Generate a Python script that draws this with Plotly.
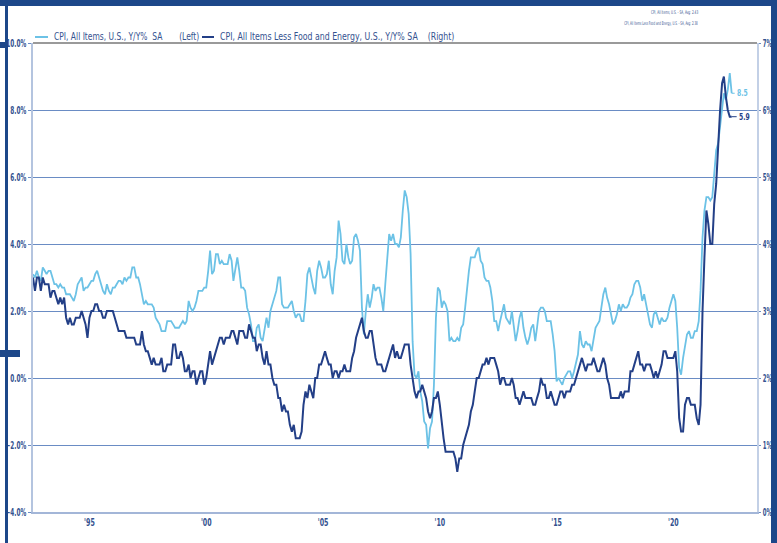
import json
import pandas as pd
import plotly.graph_objects as go

# ---------------- data (monthly, Aug 1992 - Jul 2022) ----------------
START_MONTH = "1992-08-01"

cpi_all = [
    3.1, 3.0, 3.2, 3.0, 2.9,
    3.3, 3.2, 3.1, 3.2, 3.2, 3.0, 2.8, 2.8, 2.7, 2.8, 2.7, 2.7,
    2.5, 2.5, 2.5, 2.4, 2.3, 2.5, 2.8, 2.9, 3.0, 2.6, 2.7, 2.7,
    2.8, 2.9, 2.9, 3.1, 3.2, 3.0, 2.8, 2.6, 2.5, 2.8, 2.6, 2.5,
    2.7, 2.7, 2.8, 2.9, 2.9, 2.8, 3.0, 2.9, 3.0, 3.0, 3.3, 3.3,
    3.0, 3.0, 2.8, 2.5, 2.2, 2.3, 2.2, 2.2, 2.2, 2.1, 1.8, 1.7,
    1.6, 1.4, 1.4, 1.4, 1.7, 1.7, 1.7, 1.6, 1.5, 1.5, 1.5, 1.6,
    1.7, 1.6, 1.7, 2.3, 2.1, 2.0, 2.1, 2.3, 2.6, 2.6, 2.6, 2.7,
    2.7, 3.2, 3.8, 3.1, 3.2, 3.7, 3.7, 3.4, 3.5, 3.4, 3.4, 3.4,
    3.7, 3.5, 2.9, 3.3, 3.6, 3.2, 2.7, 2.7, 2.6, 2.1, 1.9, 1.6,
    1.1, 1.1, 1.5, 1.6, 1.2, 1.1, 1.5, 1.8, 1.5, 2.0, 2.2, 2.4,
    2.6, 3.0, 3.0, 2.2, 2.1, 2.1, 2.1, 2.2, 2.3, 2.0, 1.8, 1.9,
    1.9, 1.7, 1.7, 2.3, 3.1, 3.3, 3.0, 2.7, 2.5, 3.2, 3.5, 3.3,
    3.0, 3.0, 3.1, 3.5, 2.8, 2.5, 3.2, 3.6, 4.7, 4.3, 3.5, 3.4,
    4.0, 3.6, 3.4, 3.5, 4.2, 4.3, 4.1, 3.8, 2.1, 1.3, 2.0, 2.5,
    2.1, 2.4, 2.8, 2.6, 2.7, 2.7, 2.4, 2.0, 2.8, 3.5, 4.3, 4.1,
    4.3, 4.0, 4.0, 3.9, 4.2, 5.0, 5.6, 5.4, 4.9, 3.7, 1.1, 0.1,
    0.0, 0.2, -0.4, -0.7, -1.3, -1.4, -2.1, -1.5, -1.3, -0.2, 1.8, 2.7,
    2.6, 2.1, 2.3, 2.2, 2.0, 1.1, 1.2, 1.1, 1.1, 1.2, 1.1, 1.5,
    1.6, 2.1, 2.7, 3.2, 3.6, 3.6, 3.6, 3.8, 3.9, 3.5, 3.4, 3.0,
    2.9, 2.9, 2.7, 2.3, 1.7, 1.7, 1.4, 1.7, 2.0, 2.2, 1.8, 1.7,
    1.6, 2.0, 1.5, 1.1, 1.4, 1.8, 2.0, 1.5, 1.2, 1.0, 1.2, 1.5,
    1.6, 1.1, 1.5, 2.0, 2.1, 2.1, 2.0, 1.7, 1.7, 1.7, 1.3, 0.8,
    -0.1, 0.0, -0.1, -0.2, 0.0, 0.1, 0.2, 0.2, 0.0, 0.2, 0.5, 0.7,
    1.4, 1.0, 0.9, 1.1, 1.0, 1.0, 0.8, 1.1, 1.5, 1.6, 1.7, 2.1,
    2.5, 2.7, 2.4, 2.2, 1.9, 1.6, 1.7, 1.9, 2.2, 2.0, 2.2, 2.1,
    2.1, 2.2, 2.4, 2.5, 2.8, 2.9, 2.9, 2.7, 2.3, 2.5, 2.2, 1.9,
    1.6, 1.5, 1.9, 2.0, 1.8, 1.6, 1.8, 1.7, 1.7, 1.8, 2.1, 2.3,
    2.5, 2.3, 1.5, 0.3, 0.1, 0.6, 1.0, 1.3, 1.4, 1.2, 1.2, 1.4,
    1.4, 1.7, 2.6, 4.2, 5.0, 5.4, 5.4, 5.3, 5.4, 6.2, 6.8, 7.0,
    7.5, 7.9, 8.5, 8.3, 8.6, 9.1, 8.5,
]

cpi_core = [
    3.5, 3.3, 3.5, 3.5, 3.3,
    3.5, 3.4, 3.4, 3.4, 3.2, 3.3, 3.3, 3.2, 3.1, 3.2, 3.1, 3.2,
    2.9, 2.8, 2.9, 2.8, 2.8, 2.9, 2.9, 2.9, 3.0, 2.9, 2.8, 2.6,
    2.9, 3.0, 3.0, 3.1, 3.1, 3.0, 3.0, 2.9, 2.9, 3.0, 3.0, 3.0,
    3.0, 2.9, 2.8, 2.7, 2.7, 2.7, 2.7, 2.6, 2.6, 2.6, 2.6, 2.6,
    2.5, 2.5, 2.5, 2.7, 2.5, 2.4, 2.4, 2.3, 2.2, 2.3, 2.2, 2.2,
    2.2, 2.3, 2.1, 2.1, 2.2, 2.2, 2.2, 2.5, 2.5, 2.3, 2.3, 2.4,
    2.3, 2.1, 2.1, 2.2, 2.0, 2.1, 2.1, 1.9, 2.0, 2.1, 2.1, 1.9,
    2.0, 2.2, 2.4, 2.2, 2.3, 2.4, 2.5, 2.6, 2.6, 2.5, 2.6, 2.6,
    2.6, 2.7, 2.7, 2.6, 2.5, 2.7, 2.7, 2.7, 2.6, 2.6, 2.8, 2.7,
    2.6, 2.6, 2.4, 2.5, 2.5, 2.3, 2.2, 2.4, 2.2, 2.2, 2.0, 1.9,
    1.9, 1.7, 1.7, 1.5, 1.6, 1.5, 1.5, 1.3, 1.2, 1.3, 1.1, 1.1,
    1.1, 1.2, 1.6, 1.8, 1.7, 1.9, 1.8, 1.7, 2.0, 2.0, 2.2, 2.2,
    2.3, 2.4, 2.3, 2.2, 2.2, 2.0, 2.1, 2.1, 2.0, 2.1, 2.1, 2.2,
    2.1, 2.1, 2.1, 2.3, 2.4, 2.6, 2.7, 2.8, 2.9, 2.7, 2.6, 2.6,
    2.7, 2.7, 2.5, 2.3, 2.2, 2.2, 2.2, 2.1, 2.1, 2.2, 2.3, 2.4,
    2.5, 2.3, 2.4, 2.3, 2.3, 2.4, 2.5, 2.5, 2.5, 2.2, 2.0, 1.8,
    1.7, 1.8, 1.8, 1.9, 1.8, 1.7, 1.5, 1.4, 1.5, 1.7, 1.7, 1.8,
    1.6, 1.3, 1.1, 0.9, 0.9, 0.9, 0.9, 0.9, 0.8, 0.6, 0.8, 0.8,
    1.0, 1.1, 1.2, 1.3, 1.5, 1.6, 1.8, 2.0, 2.0, 2.1, 2.2, 2.2,
    2.3, 2.2, 2.3, 2.3, 2.3, 2.2, 2.1, 1.9, 2.0, 2.0, 1.9, 1.9,
    1.9, 2.0, 1.9, 1.7, 1.7, 1.6, 1.7, 1.8, 1.7, 1.7, 1.7, 1.7,
    1.6, 1.6, 1.7, 1.8, 2.0, 1.9, 1.9, 1.7, 1.7, 1.8, 1.7, 1.6,
    1.6, 1.7, 1.8, 1.8, 1.7, 1.8, 1.8, 1.8, 1.9, 1.9, 2.0, 2.1,
    2.2, 2.3, 2.2, 2.1, 2.2, 2.2, 2.2, 2.3, 2.2, 2.1, 2.1, 2.2,
    2.3, 2.2, 2.0, 1.9, 1.7, 1.7, 1.7, 1.7, 1.7, 1.8, 1.7, 1.8,
    1.8, 1.8, 2.1, 2.1, 2.2, 2.3, 2.4, 2.2, 2.2, 2.1, 2.2, 2.2,
    2.2, 2.1, 2.0, 2.1, 2.0, 2.1, 2.2, 2.4, 2.4, 2.3, 2.3, 2.3,
    2.3, 2.4, 2.1, 1.4, 1.2, 1.2, 1.6, 1.7, 1.7, 1.6, 1.6, 1.6,
    1.4, 1.3, 1.6, 3.0, 3.8, 4.5, 4.3, 4.0, 4.0, 4.6, 4.9, 5.5,
    6.0, 6.4, 6.5, 6.2, 6.0, 5.9, 5.9,
]

series_names = [
    "CPI, All Items, U.S., Y/Y%  SA",
    "CPI, All Items Less Food and Energy, U.S., Y/Y% SA",
]
axis_tags = ["(Left)", "(Right)"]
avg_notes = [
    "CPI, All Items, U.S. - SA, Avg: 2.43",
    "CPI, All Items Less Food and Energy, U.S. - SA, Avg: 2.38",
]
x_tick_years = ["1995-01-01", "2000-01-01", "2005-01-01", "2010-01-01", "2015-01-01", "2020-01-01"]
x_tick_labels = ["'95", "'00", "'05", "'10", "'15", "'20"]
x_range = ["1992-08-01", "2023-08-01"]
left_range = [-4, 10]
right_range = [0, 7]

# ---------------- styling ----------------
W, H = 777, 543
L, R, T, B = 33, 20, 43, 31
LIGHT = "#6cc2e6"
DARK = "#233f87"
FRAME = "#1d4789"
TXT = "#34528f"
GRID = "#6a8cc4"
FONT = "DejaVu Sans Condensed, DejaVu Sans, sans-serif"

dates = pd.date_range(START_MONTH, periods=len(cpi_all), freq="MS")
dates_core = pd.date_range(START_MONTH, periods=len(cpi_core), freq="MS")

fig = go.Figure()
fig.add_trace(go.Scatter(x=dates, y=cpi_all, mode="lines", name=series_names[0],
                         line=dict(color=LIGHT, width=1.8), yaxis="y"))
fig.add_trace(go.Scatter(x=dates_core, y=cpi_core, mode="lines", name=series_names[1],
                         line=dict(color=DARK, width=2.0), yaxis="y2"))

pw, ph = W - L - R, H - T - B


def px(xp):
    return (xp - L) / pw


def py(yp):
    return (H - B - yp) / ph


tickfont = dict(family=FONT, color=TXT, size=10, weight="bold")
fig.update_layout(
    width=W, height=H,
    margin=dict(l=L, r=R, t=T, b=B, pad=0, autoexpand=False),
    paper_bgcolor="white", plot_bgcolor="white",
    showlegend=False,
    font=dict(family=FONT, color=TXT, size=9),
    xaxis=dict(
        type="date", range=x_range, tickvals=x_tick_years, ticktext=x_tick_labels,
        showgrid=False, showline=True, linecolor="#a3b6d8", linewidth=1.5,
        ticks="", zeroline=False, automargin=False, tickfont=tickfont,
    ),
    yaxis=dict(
        range=left_range, dtick=2, tickformat=".1f", ticksuffix="%",
        showgrid=True, gridcolor=GRID, gridwidth=1, zeroline=False,
        showline=True, linecolor="#b4c4df", linewidth=1.5, automargin=False,
        ticks="outside", ticklen=3, tickcolor=GRID, tickfont=tickfont,
    ),
    yaxis2=dict(
        range=right_range, dtick=1, tickformat="d", ticksuffix="%",
        overlaying="y", side="right", showgrid=False, zeroline=False,
        showline=True, linecolor="#c3d0e6", linewidth=1.5, automargin=False,
        ticks="outside", ticklen=2, tickcolor=GRID, tickfont=tickfont,
    ),
)

shapes = []
shapes.append(dict(type="line", xref="paper", yref="paper", x0=0, x1=1, y0=1, y1=1,
                   line=dict(color="#9a9a9a", width=2)))
shapes.append(dict(type="rect", xref="paper", yref="paper", x0=px(0), x1=px(W), y0=py(0), y1=py(6),
                   fillcolor=FRAME, line=dict(width=0), layer="above"))
shapes.append(dict(type="rect", xref="paper", yref="paper", x0=px(771), x1=px(W), y0=py(0), y1=py(H),
                   fillcolor=FRAME, line=dict(width=0), layer="above"))
shapes.append(dict(type="rect", xref="paper", yref="paper", x0=px(5), x1=px(8), y0=py(0), y1=py(H),
                   fillcolor=FRAME, line=dict(width=0), layer="above"))
shapes.append(dict(type="rect", xref="paper", yref="paper", x0=px(0), x1=px(8), y0=py(42), y1=py(48),
                   fillcolor=FRAME, line=dict(width=0), layer="above"))
shapes.append(dict(type="rect", xref="paper", yref="paper", x0=px(0), x1=px(20), y0=py(350), y1=py(357),
                   fillcolor=FRAME, line=dict(width=0), layer="above"))
shapes.append(dict(type="line", xref="paper", yref="paper", x0=px(35), x1=px(48), y0=py(37), y1=py(37),
                   line=dict(color=LIGHT, width=2)))
shapes.append(dict(type="line", xref="paper", yref="paper", x0=px(202), x1=px(214), y0=py(37), y1=py(37),
                   line=dict(color=DARK, width=2)))
fig.update_layout(shapes=shapes)

NB = "\u00a0"
ann = []
squeeze = []  # horizontal compression per annotation (narrow-font look)
ann.append(dict(xref="paper", yref="paper", x=px(52), y=py(37), xanchor="left", yanchor="middle",
                text=series_names[0].replace(" ", NB) + NB * 7 + axis_tags[0], showarrow=False,
                font=dict(family=FONT, size=10, color=TXT)))
squeeze.append(0.84)
ann.append(dict(xref="paper", yref="paper", x=px(218), y=py(37), xanchor="left", yanchor="middle",
                text=series_names[1].replace(" ", NB) + NB * 4 + axis_tags[1], showarrow=False,
                font=dict(family=FONT, size=10, color=TXT)))
squeeze.append(0.87)
ann.append(dict(xref="paper", yref="paper", x=px(700), y=py(13), xanchor="right", yanchor="middle",
                text=avg_notes[0], showarrow=False, font=dict(family=FONT, size=5, color=TXT)))
squeeze.append(0.62)
ann.append(dict(xref="paper", yref="paper", x=px(700), y=py(24), xanchor="right", yanchor="middle",
                text=avg_notes[1], showarrow=False, font=dict(family=FONT, size=5, color=TXT)))
squeeze.append(0.58)
ann.append(dict(x=dates[-1], y=cpi_all[-1], xref="x", yref="y", text=f"{cpi_all[-1]:.1f}",
                showarrow=True, arrowhead=0, arrowwidth=1, arrowcolor=LIGHT, ax=3, ay=0,
                xanchor="left", font=dict(family=FONT, size=9, color=LIGHT, weight="bold")))
squeeze.append(0.75)
ann.append(dict(x=dates_core[-1], y=cpi_core[-1], xref="x", yref="y2", text=f"{cpi_core[-1]:.1f}",
                showarrow=True, arrowhead=0, arrowwidth=1, arrowcolor=DARK, ax=5, ay=0,
                xanchor="left", font=dict(family=FONT, size=9, color=DARK, weight="bold")))
squeeze.append(0.75)
fig.update_layout(annotations=ann)

post = """
var gd = document.getElementById('{plot_id}');
var SQ = %s;
function sq(el, k, keep) {
  if (!el || !el.textContent) return;
  var b0 = el.getBBox();
  var len = el.getComputedTextLength();
  el.setAttribute('lengthAdjust', 'spacingAndGlyphs');
  el.setAttribute('textLength', len * k);
  var b1 = el.getBBox();
  var dx = 0;
  if (keep === 'left') dx = b0.x - b1.x;
  else if (keep === 'right') dx = (b0.x + b0.width) - (b1.x + b1.width);
  else dx = (b0.x + b0.width / 2) - (b1.x + b1.width / 2);
  el.setAttribute('x', parseFloat(el.getAttribute('x') || 0) + dx);
}
gd.querySelectorAll('g.annotation').forEach(function (g) {
  var i = parseInt(g.getAttribute('data-index'));
  var a = gd._fullLayout.annotations[i];
  sq(g.querySelector('text.annotation-text'), SQ[i], a.xanchor);
});
gd.querySelectorAll('g.ytick text').forEach(function (t) { sq(t, 0.64, 'right'); });
gd.querySelectorAll('g.y2tick text').forEach(function (t) { sq(t, 0.6, 'left'); });
gd.querySelectorAll('g.xtick text').forEach(function (t) { sq(t, 0.7, 'center'); });
""" % json.dumps(squeeze)

fig.write_html("out.html", post_script="document.body.style.margin='0';" + post,
               config={"displayModeBar": False})
